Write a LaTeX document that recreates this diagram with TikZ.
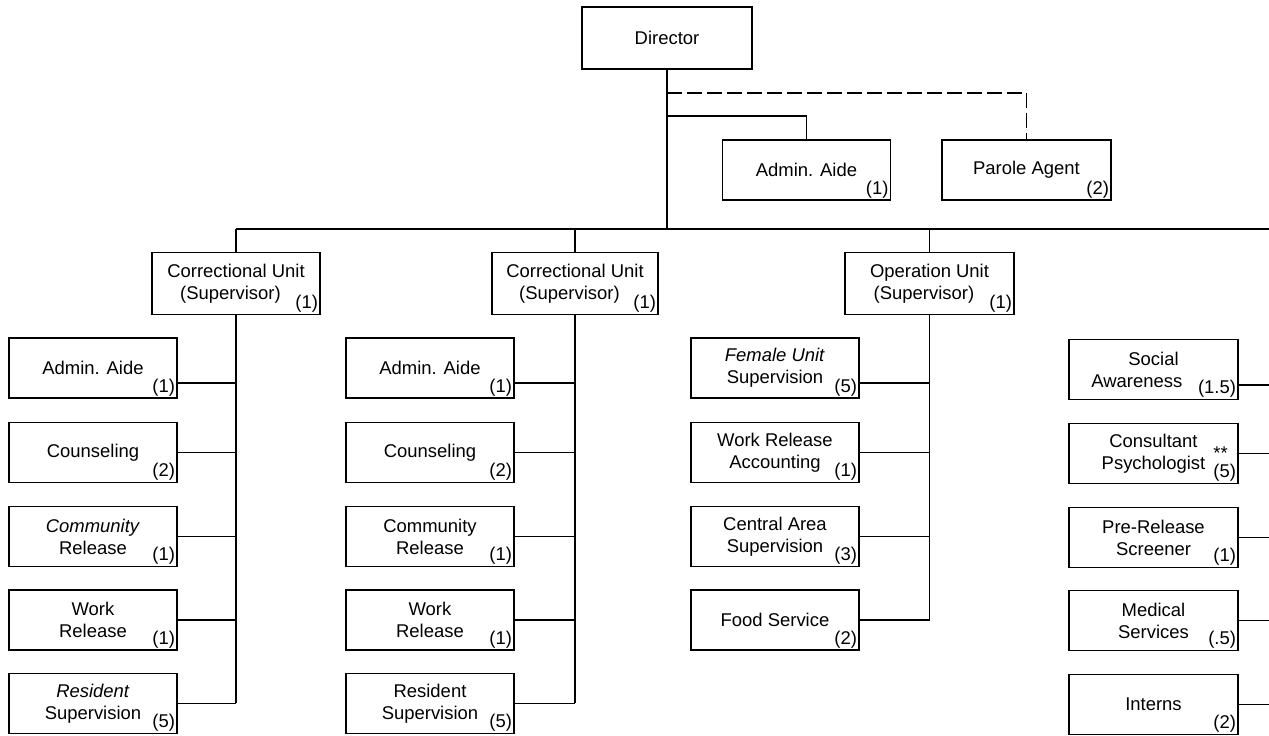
\documentclass[tikz,border=0pt]{standalone}
\usepackage{fontspec}
\setmainfont{Liberation Sans}
\usepackage{tikz}
\tikzset{org-box/.style={draw, rectangle, line width=1.1pt, minimum width=3.36cm, minimum height=1.2cm, align=center, inner sep=1pt, font=\fontsize{10.5}{12.5}\selectfont}}
\tikzset{org-head/.style={org-box, minimum height=1.24cm}}
\tikzset{staff-label/.style={anchor=south east, inner sep=1.5pt, align=right, font=\fontsize{10.5}{11}\selectfont}}
\tikzset{staff/.style={label={[staff-label]south east:#1}}}
\tikzset{org-line/.style={line width=1.1pt}}

\begin{document}
\begin{tikzpicture}[x=0.02cm, y=-0.02cm]
    \useasboundingbox (0,0) rectangle (1269,736);

    % director and his staff
    \node [org-box, minimum width=3.4cm, minimum height=1.24cm] (director) at (667, 38) {Director};
    \node [org-box, staff=(1)] (top-aide) at (806.5, 170) {Admin. Aide};
    \node [org-box, minimum width=3.38cm, staff=(2)] (parole) at (1026.5, 170) {Parole Agent};

    \coordinate (parole-tap) at (667, 93);
    \coordinate (staff-tap) at (667, 116);
    \coordinate (bus-tap) at (667, 229);
    \coordinate (bus-end) at (1269, 229);
    \coordinate (svc-trunk) at (1269, 229);

    \draw [org-line] (director.south) -- (bus-tap);
    \draw [org-line] (staff-tap) -| (top-aide.north);
    \draw [org-line, dash pattern=on 0.3cm off 0.1cm] (parole-tap) -| (parole.north);

    % units
    \node [org-head, staff=(1)] (unit-a) at (236, 283.5) {Correctional Unit\\(Supervisor)\hspace*{0.6em}};
    \node [org-head, minimum width=3.32cm, staff=(1)] (unit-b) at (575, 283.5) {Correctional Unit\\(Supervisor)\hspace*{0.6em}};
    \node [org-head, minimum width=3.38cm, staff=(1)] (unit-ops) at (929.5, 283.5) {Operation Unit\\(Supervisor)\hspace*{0.6em}};

    \draw [org-line] (unit-a.north |- bus-tap) -- (bus-end);
    \draw [org-line] (unit-a.north) -- (unit-a.north |- bus-tap);
    \draw [org-line] (unit-b.north) -- (unit-b.north |- bus-tap);
    \draw [org-line] (unit-ops.north) -- (unit-ops.north |- bus-tap);

    % first correctional unit
    \node [org-box, staff=(1)] (a-aide) at (93, 368) {Admin. Aide};
    \node [org-box, staff=(2)] (a-counsel) at (93, 452.5) {Counseling};
    \node [org-box, staff=(1)] (a-community) at (93, 536.5) {\textit{Community}\\Release};
    \node [org-box, staff=(1)] (a-work) at (93, 620) {Work\\Release};
    \node [org-box, staff=(5)] (a-resident) at (93, 703.5) {\textit{Resident}\\Supervision};

    \draw [org-line] (unit-a.south) -- (unit-a.south |- a-resident.east);
    \draw [org-line] (a-aide.-10) -- (a-aide.-10 -| unit-a);
    \draw [org-line] (a-counsel.east) -- (a-counsel.east -| unit-a);
    \draw [org-line] (a-community.east) -- (a-community.east -| unit-a);
    \draw [org-line] (a-work.east) -- (a-work.east -| unit-a);
    \draw [org-line] (a-resident.east) -- (a-resident.east -| unit-a);

    % second correctional unit
    \node [org-box, staff=(1)] (b-aide) at (430, 368) {Admin. Aide};
    \node [org-box, staff=(2)] (b-counsel) at (430, 452.5) {Counseling};
    \node [org-box, staff=(1)] (b-community) at (430, 536.5) {Community\\Release};
    \node [org-box, staff=(1)] (b-work) at (430, 620) {Work\\Release};
    \node [org-box, staff=(5)] (b-resident) at (430, 703.5) {Resident\\Supervision};

    \draw [org-line] (unit-b.south) -- (unit-b.south |- b-resident.east);
    \draw [org-line] (b-aide.-10) -- (b-aide.-10 -| unit-b);
    \draw [org-line] (b-counsel.east) -- (b-counsel.east -| unit-b);
    \draw [org-line] (b-community.east) -- (b-community.east -| unit-b);
    \draw [org-line] (b-work.east) -- (b-work.east -| unit-b);
    \draw [org-line] (b-resident.east) -- (b-resident.east -| unit-b);

    % operation unit
    \node [org-box, staff=(5)] (ops-female) at (775, 368) {\textit{Female Unit}\\Supervision};
    \node [org-box, staff=(1)] (ops-accounting) at (775, 452.5) {Work Release\\Accounting};
    \node [org-box, staff=(3)] (ops-central) at (775, 536.5) {Central Area\\Supervision};
    \node [org-box, staff=(2)] (ops-food) at (775, 620) {Food Service};

    \draw [org-line] (unit-ops.south) -- (unit-ops.south |- ops-food.east);
    \draw [org-line] (ops-female.-10) -- (ops-female.-10 -| unit-ops);
    \draw [org-line] (ops-accounting.east) -- (ops-accounting.east -| unit-ops);
    \draw [org-line] (ops-central.east) -- (ops-central.east -| unit-ops);
    \draw [org-line] (ops-food.east) -- (ops-food.east -| unit-ops);

    % services
    \node [org-box, minimum width=3.38cm, staff=(1.5)] (svc-social) at (1153.5, 369.5) {Social\\Awareness\hspace*{1.8em}};
    \node [org-box, minimum width=3.38cm, staff={\shortstack[l]{**\\(5)}}] (svc-psych) at (1153.5, 453.5) {Consultant\\Psychologist};
    \node [org-box, minimum width=3.38cm, staff=(1)] (svc-screener) at (1153.5, 537.5) {Pre-Release\\Screener};
    \node [org-box, minimum width=3.38cm, staff=(.5)] (svc-medical) at (1153.5, 620.5) {Medical\\Services};
    \node [org-box, minimum width=3.38cm, staff=(2)] (svc-interns) at (1153.5, 704.5) {Interns};

    \draw [org-line] (svc-social.-10) -- (svc-social.-10 -| svc-trunk);
    \draw [org-line] (svc-psych.east) -- (svc-psych.east -| svc-trunk);
    \draw [org-line] (svc-screener.east) -- (svc-screener.east -| svc-trunk);
    \draw [org-line] (svc-medical.east) -- (svc-medical.east -| svc-trunk);
    \draw [org-line] (svc-interns.east) -- (svc-interns.east -| svc-trunk);
\end{tikzpicture}
\end{document}
